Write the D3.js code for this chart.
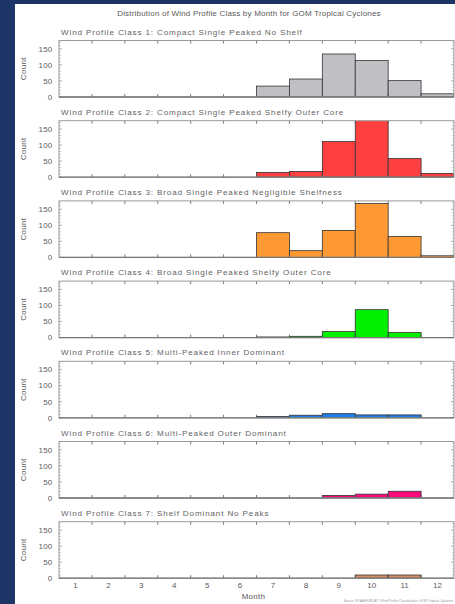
<!DOCTYPE html>
<html>
<head>
<meta charset="utf-8">
<script src="https://cdn.jsdelivr.net/npm/d3@7"></script>
<style>
  body { margin: 0; background: #1c3566; }
  svg { display: block; font-family: "Liberation Sans", Arial, sans-serif; }
  .lbl { fill: #5a5a5a; }
</style>
</head>
<body>
<div id="here"></div>
<script>
// DATA
const months = [1, 2, 3, 4, 5, 6, 7, 8, 9, 10, 11, 12];
const yTicks = [0, 50, 100, 150];
const classTitles = [
  "Wind Profile Class 1: Compact Single Peaked No Shelf",
  "Wind Profile Class 2: Compact Single Peaked Shelfy Outer Core",
  "Wind Profile Class 3: Broad Single Peaked Negligible Shelfness",
  "Wind Profile Class 4: Broad Single Peaked Shelfy Outer Core",
  "Wind Profile Class 5: Multi-Peaked Inner Dominant",
  "Wind Profile Class 6: Multi-Peaked Outer Dominant",
  "Wind Profile Class 7: Shelf Dominant No Peaks"
];
const class1 = [0, 0, 0, 0, 0, 0, 34, 56, 134, 114, 51, 10];
const class2 = [0, 0, 0, 0, 0, 0, 15, 18, 111, 180, 58, 12];
const class3 = [0, 0, 0, 0, 0, 0, 77, 21, 84, 168, 65, 5];
const class4 = [0, 0, 0, 0, 0, 0, 2, 4, 19, 87, 16, 0];
const class5 = [0, 0, 0, 0, 0, 0, 4, 8, 13, 9, 9, 0];
const class6 = [0, 0, 0, 0, 0, 0, 0, 0, 8, 12, 21, 0];
const class7 = [0, 0, 0, 0, 0, 0, 0, 0, 0, 10, 10, 0];
const classCounts = [class1, class2, class3, class4, class5, class6, class7];
const classColors = ["#c0bfc4", "#ff4040", "#ff9933", "#00f000", "#1f7fe8", "#ff0a7d", "#d98c62"];

// LAYOUT
const width = 455, height = 604;
const margin = { left: 59, right: 1 };
const panelTop0 = 40.5, panelStep = 80.2, panelH = 56.5;

const svg = d3.select("#here").append("svg")
  .attr("width", width)
  .attr("height", height);

svg.append("rect").attr("width", width).attr("height", height).attr("fill", "#1c3566");
svg.append("rect").attr("x", 15).attr("y", 4).attr("width", width - 15).attr("height", height - 4).attr("fill", "#fff");

svg.append("text")
  .attr("class", "lbl")
  .attr("x", 249).attr("y", 16)
  .attr("text-anchor", "middle")
  .attr("font-size", 8)
  .attr("letter-spacing", 0.2)
  .text("Distribution of Wind Profile Class by Month for GOM Tropical Cyclones");

const x = d3.scaleLinear()
  .domain([0.5, 12.5])
  .range([margin.left, width - margin.right]);

const boundaries = d3.range(1.5, 12.5, 1);
const minorTicks = d3.range(0, 176, 10);

classCounts.forEach(function(counts, i) {
  const top = panelTop0 + i * panelStep;
  const bottom = top + panelH;

  const y = d3.scaleLinear()
    .domain([0, 176])
    .range([bottom, top]);

  const g = svg.append("g");

  // panel title
  g.append("text")
    .attr("class", "lbl")
    .attr("x", 61).attr("y", top - 6)
    .attr("font-size", 8.1)
    .attr("letter-spacing", 0.85)
    .style("fill", "#626262")
    .text(classTitles[i]);

  // y label
  g.append("text")
    .attr("class", "lbl")
    .attr("transform", `translate(26, ${(top + bottom) / 2}) rotate(-90)`)
    .attr("text-anchor", "middle")
    .attr("font-size", 8)
    .attr("letter-spacing", 0.3)
    .text("Count");

  // clip for bars
  svg.append("clipPath").attr("id", "clip" + i)
    .append("rect")
    .attr("x", x.range()[0]).attr("y", top)
    .attr("width", x.range()[1] - x.range()[0]).attr("height", panelH);

  // bars
  g.append("g")
    .attr("clip-path", `url(#clip${i})`)
    .selectAll("rect")
    .data(months.filter(function(m, j) { return counts[j] > 0; }))
    .join("rect")
      .attr("x", function(m) { return x(m - 0.5); })
      .attr("y", function(m) { return y(counts[m - 1]); })
      .attr("width", x(1.5) - x(0.5))
      .attr("height", function(m) { return bottom - y(counts[m - 1]); })
      .attr("fill", classColors[i])
      .attr("stroke", "#333")
      .attr("stroke-width", 0.8);

  // y axis labels + ticks (major and minor, left and right)
  g.selectAll(".ytl")
    .data(yTicks)
    .join("text")
      .attr("class", "lbl")
      .attr("x", 52.5).attr("y", function(d) { return y(d) + 2.8; })
      .attr("text-anchor", "end")
      .attr("font-size", 8)
      .attr("letter-spacing", 0.2)
      .text(function(d) { return d; });

  const x0 = x.range()[0], x1 = x.range()[1];
  g.selectAll(".ytick")
    .data(minorTicks)
    .join("path")
      .attr("d", function(d) {
        const len = d % 50 === 0 ? 3 : 1.5;
        const yy = y(d);
        return `M${x0},${yy}h${len}M${x1},${yy}h${-len}`;
      })
      .attr("stroke", "#888")
      .attr("stroke-width", 0.7);

  // x ticks at bin boundaries, top and bottom
  g.selectAll(".xtick")
    .data(boundaries)
    .join("path")
      .attr("d", function(d) {
        return `M${x(d)},${top}v3M${x(d)},${bottom}v-3`;
      })
      .attr("stroke", "#555")
      .attr("stroke-width", 0.8);

  // frame
  g.append("rect")
    .attr("x", x0).attr("y", top)
    .attr("width", x1 - x0).attr("height", panelH)
    .attr("fill", "none")
    .attr("stroke", "#999")
    .attr("stroke-width", 1);
  g.append("line")
    .attr("x1", x0).attr("x2", x1)
    .attr("y1", bottom).attr("y2", bottom)
    .attr("stroke", "#777")
    .attr("stroke-width", 1.3);

  // month labels on the last panel
  if (i === classCounts.length - 1) {
    g.selectAll(".mtl")
      .data(months)
      .join("text")
        .attr("class", "lbl")
        .attr("x", function(m) { return x(m); })
        .attr("y", bottom + 10)
        .attr("text-anchor", "middle")
        .attr("font-size", 8)
        .text(function(m) { return m; });

    g.append("text")
      .attr("class", "lbl")
      .attr("x", x(6.5) - 3).attr("y", bottom + 21)
      .attr("text-anchor", "middle")
      .attr("font-size", 8)
      .attr("letter-spacing", 0.3)
      .text("Month");
  }
});

// source note
svg.append("text")
  .attr("x", 453).attr("y", 602)
  .attr("text-anchor", "end")
  .attr("font-size", 3.2)
  .attr("fill", "#999")
  .text("Source: NOAA HURDAT / Wind Profile Classification, GOM Tropical Cyclones");
</script>
</body>
</html>
